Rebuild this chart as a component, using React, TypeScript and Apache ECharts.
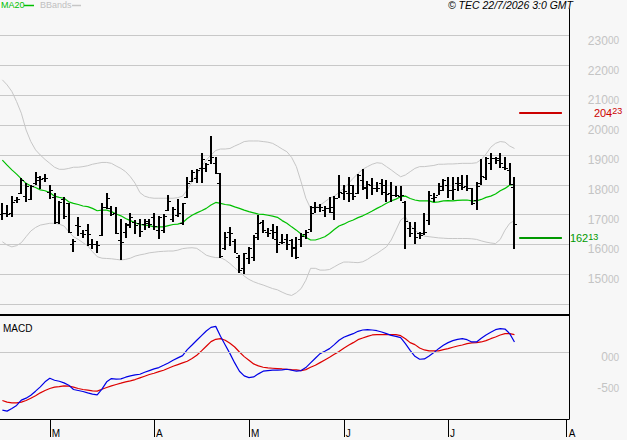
import React, { useEffect, useRef } from 'react';
import * as echarts from 'echarts';

// ---- categories / ticks ----
const categoryCount = 120;
const monthTickIndex = [10, 32, 52, 72, 94, 119];
const monthTickLabel = ['M', 'A', 'M', 'J', 'J', 'A'];

// ---- OHLC ----
const open = [
  17020, 17040, 17040, 17490, 17740, 17620, 17510, 18050, 18160, 18220,
  17770, 17600, 16760, 17510, 17380, 16030, 16650, 16370, 16480, 16030,
  16030, 16310, 17270, 17210, 17060, 16150, 16430, 16650, 16760, 16710,
  16680, 16710, 16930, 16500, 16480, 17150, 16870, 16990, 16710, 17600,
  18140, 18220, 18550, 18550, 18830, 18740, 18050, 15870, 16430, 16110,
  15590, 15200, 15560, 15590, 16390, 16760, 16430, 16480, 16200, 16090,
  16200, 16150, 15920, 16200, 16340, 16520, 17270, 17240, 17150, 17210,
  17100, 17570, 17740, 17710, 17710, 17740, 18160, 17940, 17990, 17880,
  18050, 17990, 17710, 17660, 17620, 17430, 16540, 16540, 16370, 16370,
  16820, 17570, 17660, 17960, 17990, 17830, 18050, 18050, 17960, 17910,
  17490, 18050, 18250, 18720, 18890, 18890, 18610, 18500, 17940,
];
const high = [
  17400, 17320, 17620, 17580, 18220, 18070, 17990, 18420, 18300, 18350,
  17980, 17740, 17460, 17600, 17400, 16180, 16930, 16480, 16680, 16200,
  16110, 17400, 17710, 17290, 17270, 16850, 16730, 17040, 16820, 16850,
  16870, 16870, 17040, 16960, 17010, 17660, 17270, 17520, 17400, 18250,
  18500, 18520, 19060, 18720, 19640, 18920, 18410, 16430, 16590, 16200,
  15640, 15720, 15920, 16310, 16990, 16820, 16560, 16670, 16620, 16340,
  16350, 16200, 16260, 16370, 16500, 17290, 17430, 17360, 17290, 17600,
  17620, 18330, 17990, 18250, 17990, 18360, 18520, 18130, 18220, 18100,
  18180, 18160, 18100, 17960, 17960, 17470, 16760, 16760, 16430, 17040,
  17790, 17710, 18050, 18180, 18250, 18250, 18250, 18330, 18330, 17910,
  18100, 18850, 18920, 19060, 18920, 19060, 18920, 18720, 18250,
];
const low = [
  16820, 16910, 16930, 17380, 17690, 17430, 17490, 17990, 17860, 18080,
  17510, 16680, 16680, 16870, 16390, 15760, 16290, 16220, 15950, 15840,
  15700, 16300, 17180, 16950, 16350, 15480, 16220, 16540, 16340, 16240,
  16480, 16560, 16500, 16170, 16370, 17130, 16740, 16930, 16650, 17550,
  18100, 18050, 18050, 18440, 18700, 18360, 15530, 15810, 15960, 15700,
  15060, 15010, 15360, 15450, 16150, 16370, 16260, 16200, 15700, 16030,
  15830, 15590, 15500, 15920, 16170, 16430, 17060, 17100, 16910, 17060,
  16820, 17550, 17490, 17430, 17490, 17690, 17830, 17520, 17660, 17770,
  17660, 17430, 17430, 17580, 17470, 15840, 16260, 16030, 16200, 16310,
  16650, 17430, 17660, 17800, 17550, 17490, 17800, 17830, 17800, 17340,
  17150, 17990, 18160, 18500, 18700, 18550, 18500, 17990, 15850,
];
const close = [
  17060, 17020, 17430, 17510, 18160, 17960, 17960, 18270, 18210, 18240,
  17830, 16760, 17430, 16950, 16430, 16120, 16620, 16350, 16350, 16000,
  15980, 17270, 17570, 17010, 16390, 16090, 16680, 16930, 16650, 16460,
  16800, 16680, 16620, 16930, 16960, 17460, 17180, 17040, 17380, 18070,
  18440, 18500, 18850, 18690, 18920, 18410, 15600, 16260, 16390, 15720,
  15160, 15700, 15870, 16260, 16710, 16500, 16370, 16430, 16030, 16080,
  16030, 15870, 15590, 16280, 16430, 17040, 17270, 17270, 17210, 17270,
  17570, 17770, 17800, 17990, 17620, 18330, 17880, 18020, 17910, 17880,
  17770, 17690, 17660, 17660, 17660, 16800, 16370, 16260, 16310, 16430,
  17660, 17600, 17830, 18160, 17830, 17850, 17990, 17940, 17910, 17400,
  17960, 18300, 18910, 18890, 18830, 18720, 18550, 18030, 16680,
];

// ---- indicators ----
const ma20 = [
  18830, 18660, 18500, 18360, 18200, 18050, 17960, 17910, 17830, 17800,
  17740, 17620, 17580, 17550, 17430, 17380, 17340, 17290, 17270, 17210,
  17130, 17150, 17150, 17100, 17020, 16960, 16870, 16800, 16730, 16670,
  16650, 16630, 16590, 16590, 16590, 16630, 16670, 16680, 16730, 16870,
  16980, 17060, 17130, 17210, 17320, 17410, 17380, 17340, 17320, 17260,
  17210, 17150, 17100, 17060, 17020, 17010, 16980, 16950, 16910, 16800,
  16710, 16590, 16480, 16350, 16240, 16150, 16150, 16200, 16260, 16370,
  16500, 16620, 16680, 16760, 16820, 16900, 16960, 17040, 17120, 17210,
  17290, 17380, 17460, 17520, 17600, 17620, 17540, 17490, 17460, 17460,
  17460, 17410, 17430, 17460, 17470, 17460, 17480, 17490, 17490, 17460,
  17460, 17510, 17580, 17620, 17690, 17800, 17880, 17990, 18020,
];
const bbUpper = [
  21520, 21350, 21130, 20790, 20400, 19840, 19450, 19170, 19000, 18850,
  18720, 18590, 18520, 18520, 18550, 18590, 18590, 18610, 18640, 18690,
  18720, 18750, 18750, 18720, 18630, 18550, 18440, 18270, 18050, 17740,
  17620, 17570, 17550, 17550, 17550, 17550, 17550, 17570, 17620, 17830,
  18100, 18330, 18610, 18830, 19000, 19150, 19200, 19200, 19220, 19300,
  19370, 19450, 19470, 19470, 19470, 19450, 19430, 19390, 19300, 19200,
  19110, 18920, 18610, 18100, 17550, 17210, 17240, 17320, 17430, 17550,
  17620, 17740, 17880, 18050, 18220, 18380, 18520, 18610, 18690, 18740,
  18720, 18610, 18500, 18380, 18270, 18330, 18440, 18550, 18610, 18610,
  18630, 18650, 18690, 18690, 18700, 18700, 18710, 18720, 18720, 18720,
  18740, 18850, 19030, 19260, 19390, 19450, 19430, 19300, 19220,
];
const bbLower = [
  16090, 15980, 15920, 15960, 16060, 16260, 16450, 16570, 16650, 16680,
  16710, 16710, 16680, 16620, 16430, 16260, 16170, 16060, 15950, 15760,
  15590, 15540, 15530, 15520, 15500, 15480, 15500, 15540, 15610, 15650,
  15680, 15720, 15740, 15760, 15770, 15780, 15780, 15810, 15860, 15880,
  15890, 15870, 15760, 15640, 15590, 15560, 15560, 15480, 15360, 15220,
  15080, 14940, 14830, 14750, 14690, 14640, 14580, 14520, 14480, 14400,
  14330, 14290, 14380, 14520, 14800, 15200, 15200, 15140, 15140, 15160,
  15250, 15340, 15410, 15410, 15400, 15390, 15420, 15500, 15610, 15700,
  15810, 15920, 16150, 16480, 16820, 16930, 16650, 16480, 16350, 16280,
  16260, 16240, 16220, 16210, 16200, 16200, 16200, 16200, 16200, 16190,
  16170, 16120, 16080, 16050, 16030, 16170, 16480, 16710, 16800,
];
const macdLine = [
  -935, -952, -909, -860, -774, -742, -694, -629, -559, -478,
  -419, -452, -468, -495, -532, -602, -618, -634, -656, -677,
  -688, -597, -478, -425, -435, -430, -403, -382, -366, -355,
  -323, -296, -269, -247, -210, -172, -129, -91, -54, 43,
  118, 194, 269, 344, 403, 419, 258, 118, -22, -172,
  -306, -382, -409, -398, -349, -306, -296, -290, -290, -285,
  -274, -290, -306, -296, -247, -172, -97, -22, 16, 59,
  124, 194, 242, 274, 301, 339, 360, 366, 360, 349,
  328, 301, 274, 258, 237, 140, 32, -65, -113, -108,
  -59, -5, 59, 113, 156, 188, 210, 220, 204, 167,
  167, 226, 280, 323, 366, 382, 376, 301, 167,
];
const signalLine = [
  -780, -806, -817, -817, -806, -780, -742, -704, -656, -618,
  -586, -564, -554, -543, -548, -564, -586, -602, -613, -624,
  -629, -597, -570, -543, -521, -500, -478, -462, -441, -414,
  -387, -360, -339, -312, -290, -258, -226, -199, -172, -145,
  -102, -48, 22, 97, 172, 210, 220, 194, 145, 86,
  5, -70, -129, -188, -220, -242, -253, -258, -263, -269,
  -274, -280, -285, -296, -280, -242, -210, -167, -124, -81,
  -32, 11, 65, 113, 156, 204, 231, 258, 280, 285,
  285, 285, 285, 285, 269, 220, 156, 124, 70, 38,
  22, 22, 22, 43, 59, 81, 102, 118, 140, 151,
  156, 167, 188, 220, 247, 280, 301, 301, 285,
];

// ---- levels ----
const resistanceLevel = 20423;
const supportLevel = 16213;
const levelStartIndex = 109;
const levelEndIndex = 118;

const priceLabelMin = 15000;
const priceLabelMax = 23000;
const macdLabelValues = [0, -500];
const copyright = '\u00A9 TEC 22/7/2026 3:0 GMT';

const FONT = '"Liberation Sans", Arial, sans-serif';

function supText(v: number): string {
  const whole = Math.trunc(v / 100);
  const frac = Math.abs(Math.round(v - whole * 100));
  const w = v < 0 && whole === 0 ? '-0' : String(whole);
  return `{big|${w}}{sup|${String(frac).padStart(2, '0')}}`;
}

export default function App() {
  const ref = useRef<HTMLDivElement>(null);
  useEffect(() => {
    if (!ref.current) return;
    const chart = echarts.init(ref.current, undefined, { renderer: 'svg' });
    const categories = Array.from({ length: categoryCount }, (_, i) => String(i));
    const ohlc = open.map((o, i) => [i, o, high[i], low[i], close[i]]);
    const axisRich = {
      big: { fontSize: 12, lineHeight: 10, color: '#c4c4c4', fontFamily: FONT },
      sup: { fontSize: 10, lineHeight: 8, color: '#c4c4c4', verticalAlign: 'top', fontFamily: FONT },
    };
    const levelRich = (color: string) => ({
      big: { fontSize: 11, lineHeight: 12, color, fontFamily: FONT },
      sup: { fontSize: 9, lineHeight: 10, color, verticalAlign: 'top', fontFamily: FONT },
    });
    const option: any = {
      animation: false,
      backgroundColor: '#f7f7f7',
      textStyle: { fontFamily: FONT },
      grid: [
        { left: 0, top: 9, width: 569, height: 306 },
        { left: 0, top: 315, width: 569, height: 104 },
      ],
      xAxis: [
        {
          type: 'category', gridIndex: 0, data: categories, boundaryGap: true,
          axisLine: { show: true, onZero: false, lineStyle: { color: '#000', width: 2 } },
          axisTick: { show: false }, axisLabel: { show: false }, splitLine: { show: false },
        },
        {
          type: 'category', gridIndex: 1, data: categories, boundaryGap: true, position: 'bottom',
          axisLine: { show: true, onZero: false, lineStyle: { color: '#000', width: 1 } },
          axisTick: {
            show: true, alignWithLabel: true, length: 18,
            interval: (i: number) => monthTickIndex.includes(i),
            lineStyle: { color: '#000', width: 1 },
          },
          axisLabel: {
            show: true,
            interval: (i: number) => monthTickIndex.includes(i),
            formatter: (_v: string, i: number) => {
              const k = monthTickIndex.indexOf(i);
              return k >= 0 ? monthTickLabel[k] : '';
            },
            align: 'left', verticalAlign: 'top', margin: 9, padding: [0, 0, 0, 2],
            fontSize: 10, color: '#000', fontFamily: FONT,
          },
          splitLine: { show: false },
        },
      ],
      yAxis: [
        {
          type: 'value', gridIndex: 0, position: 'right', min: 13635, max: 23895,
          minInterval: 1000, maxInterval: 1000, scale: true,
          axisLine: { show: true, lineStyle: { color: '#000', width: 1 } },
          axisTick: { show: false },
          splitLine: { show: true, showMinLine: false, showMaxLine: false, lineStyle: { color: '#c8c8c8', width: 1 } },
          axisLabel: {
            show: true, showMinLabel: false, showMaxLabel: false,
            align: 'right', verticalAlign: 'top', margin: 50,
            formatter: (v: number) => (v >= priceLabelMin && v <= priceLabelMax && v % 1000 === 0 ? supText(v) : ''),
            rich: axisRich,
          },
        },
        {
          type: 'value', gridIndex: 1, position: 'right', min: -1079, max: 603,
          minInterval: 500, maxInterval: 500, scale: true,
          axisLine: { show: true, lineStyle: { color: '#000', width: 1 } },
          axisTick: { show: false },
          splitLine: { show: false },
          axisLabel: {
            show: true, showMinLabel: false, showMaxLabel: false,
            align: 'right', verticalAlign: 'top', margin: 50,
            formatter: (v: number) => (macdLabelValues.includes(v) ? supText(v) : ''),
            rich: axisRich,
          },
        },
      ],
      series: [
        {
          name: 'BBands', type: 'line', xAxisIndex: 0, yAxisIndex: 0, data: bbUpper,
          showSymbol: false, silent: true, color: '#c6c6c6', lineStyle: { color: '#c6c6c6', width: 1 }, z: 2,
        },
        {
          name: 'BBands', type: 'line', xAxisIndex: 0, yAxisIndex: 0, data: bbLower,
          showSymbol: false, silent: true, color: '#c6c6c6', lineStyle: { color: '#c6c6c6', width: 1 }, z: 2,
        },
        {
          name: 'MA20', type: 'line', xAxisIndex: 0, yAxisIndex: 0, data: ma20,
          showSymbol: false, silent: true, color: '#00c000', lineStyle: { color: '#00c000', width: 1.2 }, z: 3,
        },
        {
          name: 'Price', type: 'custom', xAxisIndex: 0, yAxisIndex: 0, data: ohlc, z: 4,
          encode: { x: 0, y: [1, 2, 3, 4] },
          renderItem: (_p: any, api: any) => {
            const idx = api.value(0);
            const pH = api.coord([idx, api.value(2)]);
            const yL = api.coord([idx, api.value(3)])[1];
            const yO = api.coord([idx, api.value(1)])[1];
            const yC = api.coord([idx, api.value(4)])[1];
            const xc = Math.round(pH[0]);
            const yH = Math.round(pH[1]);
            const fill = { fill: '#000' };
            return {
              type: 'group',
              children: [
                { type: 'rect', shape: { x: xc - 1, y: yH, width: 2, height: Math.max(1, Math.round(yL) - yH) }, style: fill },
                { type: 'rect', shape: { x: xc - 3, y: Math.round(yO), width: 2, height: 1 }, style: fill },
                { type: 'rect', shape: { x: xc + 1, y: Math.round(yC), width: 2, height: 1 }, style: fill },
              ],
            };
          },
          markLine: {
            silent: true, symbol: 'none', animation: false,
            data: [
              [
                {
                  coord: [levelStartIndex, resistanceLevel],
                  lineStyle: { color: '#cc0000', width: 2, type: 'solid' },
                  label: {
                    show: true, position: 'end', distance: 32,
                    formatter: () => supText(resistanceLevel), rich: levelRich('#cc0000'),
                  },
                },
                { coord: [levelEndIndex, resistanceLevel] },
              ],
              [
                {
                  coord: [levelStartIndex, supportLevel],
                  lineStyle: { color: '#009900', width: 2, type: 'solid' },
                  label: {
                    show: true, position: 'end', distance: 8,
                    formatter: () => supText(supportLevel), rich: levelRich('#009900'),
                  },
                },
                { coord: [levelEndIndex, supportLevel] },
              ],
            ],
          },
        },
        {
          name: 'Signal', type: 'line', xAxisIndex: 1, yAxisIndex: 1, data: signalLine,
          showSymbol: false, silent: true, color: '#dd0000', lineStyle: { color: '#dd0000', width: 1.2 }, z: 3,
          markLine: {
            silent: true, symbol: 'none', animation: false, label: { show: false },
            lineStyle: { color: '#c8c8c8', width: 1, type: 'solid' },
            data: [{ yAxis: 0 }],
          },
        },
        {
          name: 'MACD', type: 'line', xAxisIndex: 1, yAxisIndex: 1, data: macdLine,
          showSymbol: false, silent: true, color: '#0000e6', lineStyle: { color: '#0000e6', width: 1.2 }, z: 4,
        },
      ],
      graphic: [
        { type: 'text', x: 1, y: 5, style: { text: 'MA20', fill: '#00c000', fontSize: 9, fontFamily: FONT, verticalAlign: 'middle' } },
        { type: 'line', shape: { x1: 24, y1: 5.5, x2: 34, y2: 5.5 }, style: { stroke: '#00c000', lineWidth: 1.5 } },
        { type: 'text', x: 40, y: 5, style: { text: 'BBands', fill: '#c0c0c0', fontSize: 9, fontFamily: FONT, verticalAlign: 'middle' } },
        { type: 'line', shape: { x1: 72, y1: 5.5, x2: 81, y2: 5.5 }, style: { stroke: '#c6c6c6', lineWidth: 1.5 } },
        { type: 'text', x: 573, y: 5, style: { text: copyright, fill: '#000', fontSize: 10.5, fontStyle: 'italic', fontFamily: FONT, align: 'right', verticalAlign: 'middle' } },
        { type: 'text', x: 3, y: 328, style: { text: 'MACD', fill: '#000', fontSize: 10, fontFamily: FONT, verticalAlign: 'middle' } },
      ],
    };
    chart.setOption(option);
    return () => chart.dispose();
  }, []);
  return <div ref={ref} style={{ position: 'fixed', left: 0, top: 0, width: 627, height: 440 }} />;
}
